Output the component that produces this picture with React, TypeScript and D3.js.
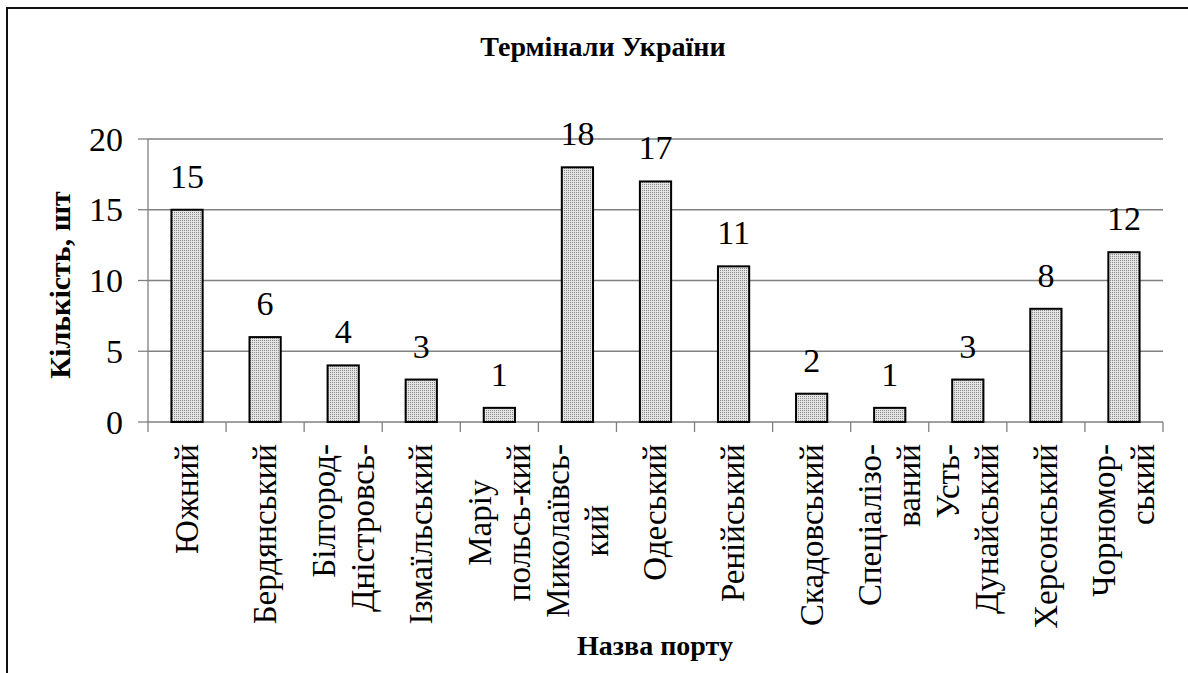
import * as d3 from "d3";

const ports = [
  "Южний",
  "Бердянський",
  "Білгород-|Дністровсь-",
  "Ізмаїльський",
  "Маріу|польсь-кий",
  "Миколаївсь-|кий",
  "Одеський",
  "Ренійський",
  "Скадовський",
  "Спеціалізо-|ваний",
  "Усть-|Дунайський",
  "Херсонський",
  "Чорномор-|ський",
];
const terminals = [15, 6, 4, 3, 1, 18, 17, 11, 2, 1, 3, 8, 12];
const yTicks = [0, 5, 10, 15, 20];
// wrapped labels whose lines sit centred on each other (the rest start at the axis)
const centredLabels = ["Маріу|польсь-кий", "Миколаївсь-|кий"];

const FONT = `"Liberation Serif"`;
const W = 1188, H = 673;
const left = 148, right = 1163, top = 139, bottom = 422;

const x = d3.scaleBand<string>().domain(ports).range([left, right]).paddingInner(0.6).paddingOuter(0.3);
const y = d3.scaleLinear().domain([0, 20]).range([bottom, top]);

let ctx: CanvasRenderingContext2D | null = null;
function textWidth(s: string, size: number) {
  if (!ctx) ctx = document.createElement("canvas").getContext("2d");
  if (!ctx) return s.length * size * 0.5;
  ctx.font = `${size}px "Liberation Serif"`;
  return ctx.measureText(s).width;
}

const grid = "#808080";
const labelSize = 33;
const numSize = 34;
const reg = { fontFamily: FONT, fontWeight: "normal" as const };

export default function App() {
  const step = x.step();
  const labelTop = 444;
  const lineGap = 39;

  return (
    <svg width={W} height={H} style={{ position: "absolute", left: 0, top: 0, background: "#fff" }}>
      <defs>
        <pattern id="dots" width={2} height={2} patternUnits="userSpaceOnUse">
          <rect width={2} height={2} fill="#e4e4e4" />
          <rect width={1} height={1} fill="#8a8a8a" />
        </pattern>
      </defs>

      {/* outer frame, cut off at right and bottom */}
      <rect x={7} y={8} width={1300} height={800} fill="none" stroke="#111" strokeWidth={2} />

      {/* gridlines + y ticks */}
      {yTicks.map(t => (
        <g key={t}>
          {t > 0 && <line x1={left} x2={right} y1={y(t)} y2={y(t)} stroke={grid} strokeWidth={1.3} />}
          <line x1={left - 10} x2={left} y1={y(t)} y2={y(t)} stroke={grid} strokeWidth={1.3} />
          <text x={left - 25} y={y(t)} dy="0.34em" textAnchor="end" style={{ ...reg, fontSize: `${numSize}px` }}>
            {String(t)}
          </text>
        </g>
      ))}
      <line x1={left} x2={left} y1={top} y2={bottom} stroke={grid} strokeWidth={1.3} />
      <line x1={left} x2={right} y1={bottom} y2={bottom} stroke={grid} strokeWidth={1.3} />
      {d3.range(ports.length + 1).map(i => (
        <line key={i} x1={left + i * step} x2={left + i * step} y1={bottom} y2={bottom + 10} stroke={grid} strokeWidth={1.3} />
      ))}

      {/* bars and values */}
      {ports.map((p, i) => {
        const bx = x(p)!;
        const cx = bx + x.bandwidth() / 2;
        return (
          <g key={p}>
            <rect
              x={bx}
              width={x.bandwidth()}
              y={y(terminals[i])}
              height={y(0) - y(terminals[i])}
              fill="url(#dots)"
              stroke="#000"
              strokeWidth={2}
            />
            <text x={cx} y={y(terminals[i]) - 22} textAnchor="middle" style={{ ...reg, fontSize: `${numSize}px` }}>
              {String(terminals[i])}
            </text>
          </g>
        );
      })}

      {/* category labels, rotated */}
      {ports.map(p => {
        const lines = p.split("|");
        const cx = x(p)! + x.bandwidth() / 2;
        const centred = centredLabels.includes(p);
        const maxLen = d3.max(lines, l => textWidth(l, labelSize)) ?? 0;
        return (
          <g key={p} transform={`translate(${cx},${labelTop}) rotate(-90)`}>
            {lines.map((ln, i) => (
              <text
                key={i}
                x={centred ? -maxLen / 2 : 0}
                y={(i - (lines.length - 1) / 2) * lineGap}
                dy="0.33em"
                textAnchor={centred ? "middle" : "end"}
                style={{ ...reg, fontSize: `${labelSize}px` }}
              >
                {ln}
              </text>
            ))}
          </g>
        );
      })}

      {/* titles */}
      <text x={603} y={56} textAnchor="middle" style={{ fontFamily: FONT, fontWeight: "bold", fontSize: "28px" }}>
        Термінали України
      </text>
      <text x={655} y={655} textAnchor="middle" style={{ fontFamily: FONT, fontWeight: "bold", fontSize: "28px" }}>
        Назва порту
      </text>
      <text
        transform="translate(70,285) rotate(-90)"
        textAnchor="middle"
        style={{ fontFamily: FONT, fontWeight: "bold", fontSize: "30px" }}
      >
        Кількість, шт
      </text>
    </svg>
  );
}
